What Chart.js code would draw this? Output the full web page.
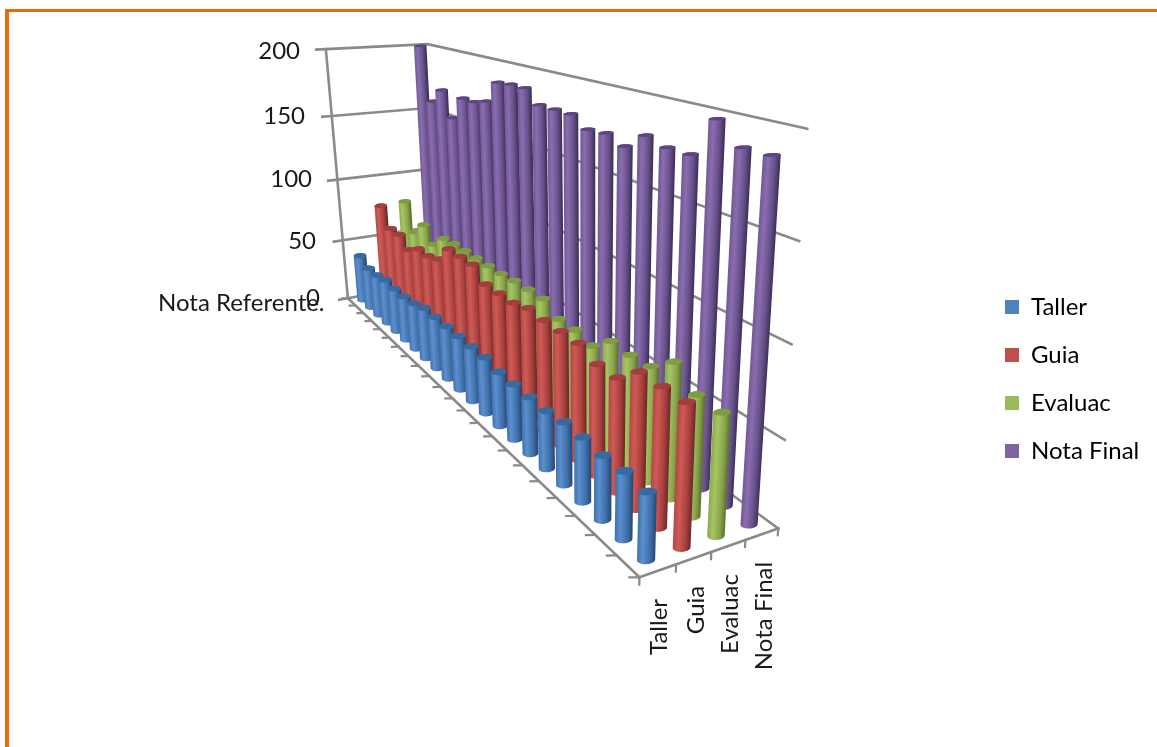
<!DOCTYPE html>
<html><head><meta charset="utf-8">
<script src="https://cdn.jsdelivr.net/npm/chart.js@4"></script>
<style>
html,body{margin:0;padding:0;background:#fff;overflow:hidden;width:1157px;height:747px}
canvas{position:absolute;left:0;top:0;filter:blur(.5px)}
.b{position:absolute;background:#E46C0A}
</style></head><body>
<canvas id="c" width="1157" height="747"></canvas>
<div class="b" style="left:5px;top:9px;width:1152px;height:3px"></div>
<div class="b" style="left:5px;top:9px;width:4px;height:738px"></div>
<script>
const categories=["Nota Referente.","","","","","","","","","","","","","","","","","","","","",""];
const seriesNames=["Taller","Guia","Evaluac","Nota Final"];
const valueTicks=[0,50,100,150,200];
const taller=[38,33,33,35,34,34,35,38,38,38,38,38,38,36,36,36,36,38,38,37,38,37];
const guia=[77,63,63,56,62,62,65,78,78,78,70,70,70,73,72,72,72,67,67,78,78,78];
const evaluac=[78,57,68,57,67,68,68,68,68,68,69,69,69,62,62,59,69,68,69,79,69,68];
const notaFinal=[200,160,171,153,170,170,173,188,189,189,181,181,181,175,176,172,181,178,178,198,188,188];
const seriesValues=[taller,guia,evaluac,notaFinal];

// View of the 3D box (where its eight corners land on the page)
const Q={A:[347,298],B:[639,578],C:[778,529],D:[439,281],At:[325,48],Bt:[648,146],Ct:[807,128],Dt:[427,43]};
function homog(p0,p1,p2,p3){const [x0,y0]=p0,[x1,y1]=p1,[x2,y2]=p2,[x3,y3]=p3;
 const dx1=x1-x2,dx2=x3-x2,sx=x0-x1+x2-x3,dy1=y1-y2,dy2=y3-y2,sy=y0-y1+y2-y3,den=dx1*dy2-dx2*dy1;
 const g=(sx*dy2-dx2*sy)/den,h=(dx1*sy-sx*dy1)/den;
 const a=x1-x0+g*x1,b=x3-x0+h*x3,d=y1-y0+g*y1,e=y3-y0+h*y3;
 return (s,t)=>{const w=g*s+h*t+1;return [(a*s+b*t+x0)/w,(d*s+e*t+y0)/w];};}
const floorH=homog(Q.A,Q.B,Q.C,Q.D),topH=homog(Q.At,Q.Bt,Q.Ct,Q.Dt);
const vMax=valueTicks[valueTicks.length-1];
function proj(u,v,val){const w=val/vMax,r=1.1+.07*u,f=w/(w+r*(1-w));const a=floorH(u,v),b=topH(u,v);
 return {x:a[0]+(b[0]-a[0])*f,y:a[1]+(b[1]-a[1])*f};}
const N=28;
function ring(u,v,val){const c=proj(u,v,val),f=floorH(u,v),t=topH(u,v);const H=Math.hypot(t[0]-f[0],t[1]-f[1]);
 const w=val/vMax,rx=(.025-.0035*u)*H*(1+.04*w),ry=rx*(.48-.28*w),o=[];
 for(let k=0;k<N;k++){const a=k/N*2*Math.PI;o.push({x:c.x+rx*Math.cos(a),y:c.y+ry*Math.sin(a)-.04*rx*Math.cos(a)});}return o;}
function hull(pts){const p=pts.slice().sort((a,b)=>a.x-b.x||a.y-b.y);const cr=(o,a,b)=>(a.x-o.x)*(b.y-o.y)-(a.y-o.y)*(b.x-o.x);
 const l=[];for(const q of p){while(l.length>1&&cr(l[l.length-2],l[l.length-1],q)<=0)l.pop();l.push(q);}
 const t=l.length+1;for(let i=p.length-2;i>=0;i--){const q=p[i];while(l.length>=t&&cr(l[l.length-2],l[l.length-1],q)<=0)l.pop();l.push(q);}
 l.pop();return l;}
const nc=categories.length,ns=seriesNames.length;
const U=i=>(i+.5)/nc,V=s=>(s+.5)/ns;

const colors=[
 {stops:['#3e6ea6','#5b8fd0','#3f6fa8','#274a75'],cap:'#38699f',key:'#4F81BD'},
 {stops:['#b04542','#cf5a56','#a8403d','#6e2a28'],cap:'#a23f3c',key:'#C0504D'},
 {stops:['#8aa84c','#a6c564','#88a44a','#5c7230'],cap:'#7f9b43',key:'#9BBB59'},
 {stops:['#6f5690','#8a6db0','#67508a','#3e2f59'],cap:'#5c4680',key:'#8064A2'}];
const GRID='#8a8a8a';
const cv=document.getElementById('c'),g2=cv.getContext('2d');
const ds=[];
function line(pts,w){ds.push({data:pts,showLine:true,borderColor:GRID,borderWidth:w||2.6,pointRadius:0,fill:false,label:'axis',borderCapStyle:'square'});}
for(const t of valueTicks){line([proj(1,1,t),proj(0,1,t),proj(0,0,t),proj(0,-.09,t)]);}
line([proj(0,0,0),proj(0,0,vMax)]);
line([proj(0,0,0),proj(1,0,0),proj(1,1,0)]);
for(let i=0;i<=nc;i++)line([proj(i/nc,0,0),proj(i/nc-.005,-.05,0)],2.2);
for(let s=0;s<=ns;s++)line([proj(1,s/ns,0),proj(1,s/ns,-4)],2.2);
for(let s=ns-1;s>=0;s--){for(let i=0;i<nc;i++){
 const val=seriesValues[s][i],u=U(i),v=V(s);
 const rb=ring(u,v,0),rt=ring(u,v,val);
 const poly=hull(rb.concat(rt));
 const c0=proj(u,v,0),c1=proj(u,v,val);let dx=c1.x-c0.x,dy=c1.y-c0.y;const L=Math.hypot(dx,dy);dx/=L;dy/=L;
 const nx=-dy,ny=dx;const sgn=nx<0?-1:1;
 const vals=rb.concat(rt).map(p=>(p.x-c0.x)*nx*sgn+(p.y-c0.y)*ny*sgn);const mn=Math.min(...vals),mx=Math.max(...vals);
 const gr=g2.createLinearGradient(c0.x+nx*sgn*mn,c0.y+ny*sgn*mn,c0.x+nx*sgn*mx,c0.y+ny*sgn*mx);
 const st=colors[s].stops;gr.addColorStop(0,st[0]);gr.addColorStop(.32,st[1]);gr.addColorStop(.72,st[2]);gr.addColorStop(1,st[3]);
 ds.push({label:seriesNames[s],data:poly,showLine:true,borderWidth:0,borderColor:'transparent',backgroundColor:gr,fill:'shape',pointRadius:0});
 ds.push({label:seriesNames[s],data:rt,showLine:true,borderWidth:0,borderColor:'transparent',backgroundColor:colors[s].cap,fill:'shape',pointRadius:0});
}}
ds.forEach((d,k)=>{d.order=ds.length-k;});
const FONT='Lato, "Open Sans", sans-serif';
const texts={
 value:[[String(valueTicks[4]),300,51],[String(valueTicks[3]),305,116],[String(valueTicks[2]),312,179],[String(valueTicks[1]),316,241],[String(valueTicks[0]),320,298]],
 cat:[categories[0],158,303],
 series:[[seriesNames[0],667,627],[seriesNames[1],704,610],[seriesNames[2],738,614],[seriesNames[3],772,616]]};
const deco={id:'deco',
 afterLayout(ch){ch.legend.left=981;ch.legend.top=271;},
 afterDatasetsDraw(ch){const c=ch.ctx;c.save();c.fillStyle='#1a1a1a';c.font='24px '+FONT;c.textBaseline='middle';
  c.textAlign='right';for(const [t,x,y] of texts.value)c.fillText(t,x,y);
  c.textAlign='left';c.fillText(texts.cat[0],texts.cat[1],texts.cat[2]);
  for(const [t,x,y] of texts.series){c.save();c.translate(x,y);c.rotate(-Math.PI/2);c.textAlign='center';c.textBaseline='alphabetic';c.fillText(t,0,0);c.restore();}
  c.restore();}};
const chart=new Chart(cv,{type:'scatter',data:{datasets:ds},plugins:[deco],options:{
 responsive:false,animation:false,layout:{padding:0},events:[],
 scales:{x:{type:'linear',display:false,min:0,max:1157,bounds:'data'},y:{type:'linear',display:false,reverse:true,min:0,max:747,bounds:'data'}},
 plugins:{tooltip:{enabled:false},filler:{propagate:false},
  legend:{position:'right',align:'start',labels:{boxWidth:14,boxHeight:14,padding:24,color:'#1a1a1a',font:{family:FONT,size:24},
   generateLabels:()=>seriesNames.map((n,s)=>({text:n,fillStyle:colors[s].key,strokeStyle:colors[s].key,lineWidth:0,hidden:false}))}}}}});
chart.options.scales.x.max=chart.chartArea.width;chart.update('none');
</script></body></html>
